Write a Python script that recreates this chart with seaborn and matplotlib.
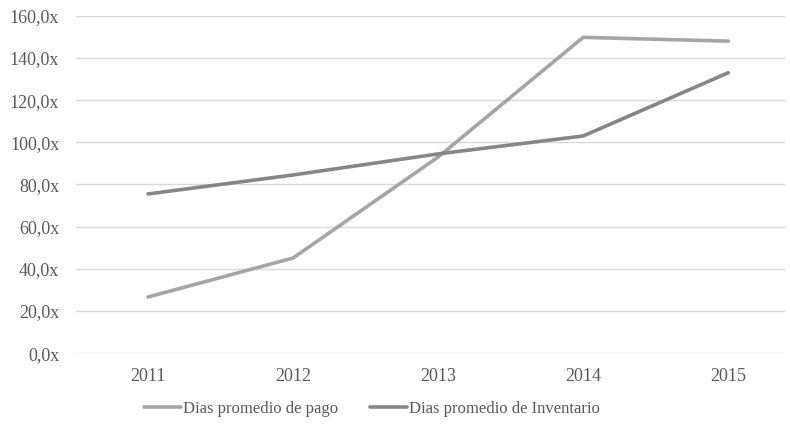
import numpy as np
import pandas as pd
import matplotlib
matplotlib.use('Agg')
import matplotlib.pyplot as plt
import seaborn as sns
from matplotlib.ticker import FuncFormatter

years = ['2011', '2012', '2013', '2014', '2015']
pago = [26.6, 45.1, 93.0, 149.8, 148.0]
inventario = [75.5, 84.5, 94.5, 103.0, 133.0]
series_names = ['Dias promedio de pago', 'Dias promedio de Inventario']
colors = ['#A5A5A5', '#868686']

df = pd.DataFrame({
    'year': years * 2,
    'value': pago + inventario,
    'serie': [series_names[0]] * len(years) + [series_names[1]] * len(years),
})

sns.set_theme(style='white')
plt.rcParams['font.family'] = ['Liberation Serif', 'DejaVu Serif']

fig = plt.figure(figsize=(7.9, 4.28), dpi=100)
ax = fig.add_axes([0.096, 0.175, 0.898, 0.788])

sns.lineplot(data=df, x='year', y='value', hue='serie', palette=colors,
             linewidth=2.6, ax=ax, sort=False)

# categories are spaced a bit wider than the plot area, last one sits off-centre
ax.set_xlim(-0.497, 4.393)
ax.set_ylim(0, 160)
ax.set_yticks(np.arange(0, 161, 20))
ax.yaxis.set_major_formatter(FuncFormatter(lambda v, p: f'{v:.1f}'.replace('.', ',') + 'x'))
ax.grid(axis='y', color='#D9D9D9', linewidth=1)
ax.set_axisbelow(True)
for s in ax.spines.values():
    s.set_visible(False)
ax.tick_params(axis='both', length=0, labelsize=13, labelcolor='#595959')
ax.tick_params(axis='x', pad=11)
ax.tick_params(axis='y', pad=12)
ax.set_xlabel('')
ax.set_ylabel('')

handles, labels = ax.get_legend_handles_labels()
ax.get_legend().remove()
leg = fig.legend(handles, labels, loc='center', bbox_to_anchor=(0.471, 0.044), ncol=2,
                 frameon=False, fontsize=12, handlelength=2.2, handletextpad=0.15,
                 columnspacing=1.9)
for t in leg.get_texts():
    t.set_color('#595959')

fig.savefig('out.png', dpi=100)
